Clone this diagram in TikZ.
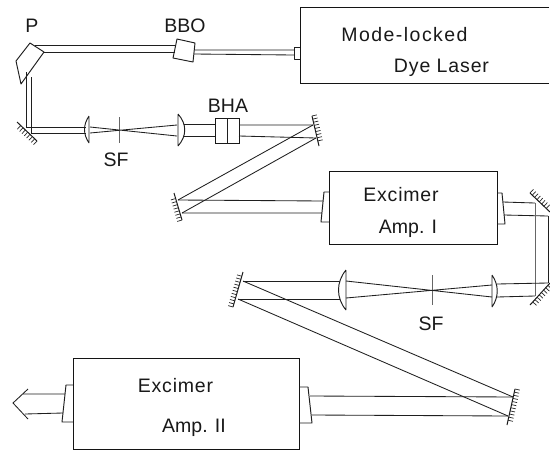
\documentclass[tikz,border=0pt]{standalone}
\usepackage{fontspec}
\setmainfont{Liberation Sans}
\usetikzlibrary{decorations.pathreplacing}
\tikzset{
  beam/.style={draw=black!88,line width=0.85pt},
  optic/.style={draw=black!88,line width=0.95pt,line join=round},
  thin beam/.style={draw=black!60,line width=0.8pt},
  label/.style={anchor=base,inner sep=0pt,font=\fontsize{19.5}{22}\selectfont,text=black!90},
  hatch/.style={draw=black!85,line width=0.7pt,decorate,decoration={border,segment length=3.2pt,amplitude=5pt,angle=90}},
  mirrorline/.style={draw=black!90,line width=1pt},
  ampbox/.style={draw=black!92,line width=1pt,rectangle,inner sep=0pt,anchor=north west},
}
\newcommand{\mirr}[3]{%
  \coordinate (#1a) at #2; \coordinate (#1b) at #3;
  \path[mirrorline] (#1a) -- (#1b);
  \path[hatch] (#1a) -- (#1b);
}
\begin{document}
\begin{tikzpicture}[x=1pt,y=-1pt]
\useasboundingbox[fill=white] (0,0) rectangle (550,451);
% boxes
\draw[draw=black!92,line width=1pt] (549,7) -- (300.5,7) -- (300.5,83) -- (549,83);
\node[ampbox,minimum width=168pt,minimum height=73pt] (ampone) at (329,171) {};
\node[ampbox,minimum width=226pt,minimum height=91pt] (amptwo) at (73,358) {};
% windows
\draw[optic] (300,47) -- (294,47) -- (294,59) -- (300,59);
\draw[optic] (329,192) -- (324,192) -- (321,222) -- (329,222);
\draw[optic] (497,193) -- (502,193) -- (505,224) -- (497,224);
\draw[optic] (299,387) -- (308,387) -- (312,423) -- (299,423);
\draw[optic] (73,385) -- (66,385) -- (62,422) -- (73,422);
% prism, BBO, BHA
\draw[optic] (30,43) -- (44,52) -- (21,84) -- (16,61) -- cycle;
\draw[optic] (177,39) -- (195,43) -- (193,62) -- (173,58) -- cycle;
\node[draw=black!90,line width=1pt,minimum width=24pt,minimum height=25pt,inner sep=0pt,anchor=north west] (bha) at (215,118) {};
\draw[optic] (227,118) -- (227,143);
% mirrors
\mirr{ma}{(37,141)}{(17,122)}
\mirr{mb}{(312,116)}{(319,146)}
\mirr{mc}{(182,220)}{(174,193)}
\mirr{md}{(530,193)}{(550,212)}
\mirr{me}{(550,283)}{(530,305)}
\mirr{mf}{(233,307)}{(243,272)}
\mirr{mg}{(515,389)}{(507,425)}
% lenses
\draw[optic] (89,116) -- (89,143) (89,116) .. controls (83,125) and (83,134) .. (89,143);
\draw[optic] (178,114) -- (178,146) (178,114) .. controls (187,124) and (187,136) .. (178,146);
\draw[optic] (492,275) -- (492,307) (492,275) .. controls (499,285) and (499,297) .. (492,307);
\draw[optic] (346,270) -- (346,310) (346,270) .. controls (336,282) and (336,298) .. (346,310);
% slits
\draw[thin beam] (119,117) -- (119,143);
\draw[thin beam] (432,275) -- (432,305);
% beam 1: laser to prism
\draw[beam] (294,50) -- (194,50) (294,55) -- (194,54);
\draw[beam] (176,45) -- (35,45) (175,52) -- (43,52);
\draw[beam] (26,72) -- (26,127) (31,77) -- (31,133);
\draw[beam] (26,127) -- (86,127) (31,133) -- (86,133);
\draw[beam] (90,127) -- (177,136) (90,133) -- (177,125);
\draw[beam] (184,124) -- (215,124) (184,136) -- (215,136);
\draw[beam] (239,125) -- (313,125) (239,136) -- (316,138);
\draw[beam] (313,125) -- (178,200) (316,138) -- (182,213);
\draw[beam] (178,200) -- (323,201) (182,213) -- (322,213);
% beam 2: amp I to amp II
\draw[beam] (503,202) -- (535,203) (504,215) -- (548,216);
\draw[thin beam] (535,203) -- (535,296);
\draw[beam] (548,216) -- (548,283);
\draw[beam] (497,284) -- (548,283) (497,297) -- (535,296);
\draw[beam] (492,285) -- (346,298) (492,297) -- (346,281);
\draw[beam] (340,281) -- (243,281) (340,299) -- (238,299);
\draw[beam] (243,281) -- (513,397) (238,299) -- (508,416);
\draw[beam] (513,397) -- (310,396) (508,416) -- (312,415);
% output
\draw[beam] (65,394) -- (23,394) (63,413) -- (25,414);
\draw[beam,line join=miter] (28,389) -- (13,403) -- (28,419);
% labels
\node[label] (lp) at (32,32) {P};
\node[label] (lbbo) at (185,32) {BBO};
\node[label] (lbha) at (228,112) {BHA};
\node[label] (lsfa) at (116,166) {SF};
\node[label] (lsfb) at (431,330) {SF};
\node[label] (lml) at (404.5,41) {\addfontfeature{LetterSpace=7.5}Mode-locked};
\node[label] (ldl) at (441.5,72) {\addfontfeature{LetterSpace=4.5}Dye Laser};
\node[label] (lexa) at (401,201) {\addfontfeature{LetterSpace=4}Excimer};
\node[label] (lampa) at (408,233) {Amp. I};
\node[label] (lexb) at (175.5,392) {\addfontfeature{LetterSpace=4}Excimer};
\node[label] (lampb) at (194,432) {Amp. II};
\end{tikzpicture}
\end{document}
